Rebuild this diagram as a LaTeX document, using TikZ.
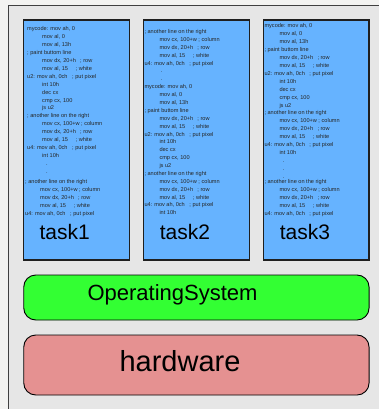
\documentclass[tikz,border=0pt]{standalone}
\usepackage{xcolor}
\usepackage{fontspec}
\setmainfont{Liberation Sans}
\usepackage{tikz}
\usetikzlibrary{positioning, calc}
\tikzset{every node/.append style={inner sep=0pt}}

\definecolor{pagebg}{HTML}{F3F3F1}
\definecolor{panelgray}{HTML}{E6E6E6}
\definecolor{taskblue}{HTML}{66B3FF}
\definecolor{osgreen}{HTML}{33FF33}
\definecolor{hwred}{HTML}{E59191}

% code lines
\newcommand{\codeind}{\hspace*{15pt}}
\newcommand{\cmnt}[3]{\makebox[#1][l]{#2}#3}
\newcommand{\lnrow}{\codeind\cmnt{38pt}{mov dx, 20+h}{; row}}
\newcommand{\lnwhite}{\codeind\cmnt{33.5pt}{mov al, 15}{; white}}
\newcommand{\lncol}{\codeind\cmnt{39pt}{mov cx, 100+w}{; column}}
\newcommand{\lnputa}{\cmnt{45pt}{u2: mov ah, 0ch}{; put pixel}}
\newcommand{\lnputb}{\cmnt{45pt}{u4: mov ah, 0ch}{; put pixel}}

\begin{document}
\begin{tikzpicture}[
    x=1pt, y=-1pt,
    taskbox/.style={rectangle, draw=black!88, fill=taskblue, line width=1.3pt,
        minimum width=105.6pt, minimum height=240pt},
    layerbox/.style={rectangle, rounded corners=12pt, draw=black, line width=0.9pt,
        minimum width=345.3pt},
    code/.style={anchor=base west, font=\fontsize{5.6}{7}\selectfont, text=black!85},
    tasklbl/.style={anchor=base, font=\fontsize{21}{24}\selectfont},
]
\useasboundingbox (0,0) rectangle (379,409);
\clip (0,0) rectangle (379,409);
\fill[pagebg] (0,0) rectangle (379,409);
\filldraw[fill=panelgray, draw=black!75, line width=0.8pt] (8.5,5) rectangle (420,440);

% ===== TASKS =====
\node[taskbox] (task1) at (76.5,140) {};
\node[taskbox] (task2) at (196.4,140) {};
\node[taskbox] (task3) at (316.2,140) {};

\begin{scope}
\clip ($(task1.north west)+(1,1)$) rectangle ($(task1.south east)+(-1,-1)$);
\foreach \txt [count=\i from 0] in {{mycode: mov ah, 0}, {\codeind mov al, 0},
    {\codeind mov al, 13h}, {; paint buttom line}, \lnrow, \lnwhite, \lnputa,
    {\codeind int 10h}, {\codeind dec cx}, {\codeind cmp cx, 100}, {\codeind js u2},
    {; another line on the right}, \lncol, \lnrow, \lnwhite, \lnputb,
    {\codeind int 10h}, {\hspace*{19pt}.}, {\hspace*{19pt}.}}
  \node[code] (c1a-\i) at (27, {30.6+7.94*\i}) {\txt};
\foreach \txt [count=\i from 0] in {{; another line on the right}, \lncol, \lnrow,
    \lnwhite, \lnputb}
  \node[code] (c1b-\i) at (25, {183.6+7.85*\i}) {\txt};
\end{scope}

\begin{scope}
\clip ($(task2.north west)+(1,1)$) rectangle ($(task2.south east)+(-1,-1)$);
\foreach \txt [count=\i from 0] in {{; another line on the right}, \lncol, \lnrow,
    \lnwhite, \lnputb, {\hspace*{16pt}.}, {\hspace*{16pt}.},
    {mycode: mov ah, 0}, {\codeind mov al, 0}, {\codeind mov al, 13h},
    {; paint buttom line}, \lnrow, \lnwhite, \lnputa, {\codeind int 10h},
    {\codeind dec cx}, {\codeind cmp cx, 100}, {\codeind js u2},
    {; another line on the right}, \lncol, \lnrow, \lnwhite, \lnputb,
    {\codeind int 10h}}
  \node[code] (c2-\i) at (144.3, {33.6+7.88*\i}) {\txt};
\end{scope}

\begin{scope}
\clip ($(task3.north west)+(1,1)$) rectangle ($(task3.south east)+(-1,-1)$);
\foreach \txt [count=\i from 0] in {{mycode: mov ah, 0}, {\codeind mov al, 0},
    {\codeind mov al, 13h}, {; paint buttom line}, \lnrow, \lnwhite, \lnputa,
    {\codeind int 10h}, {\codeind dec cx}, {\codeind cmp cx, 100}, {\codeind js u2},
    {; another line on the right}, \lncol, \lnrow, \lnwhite, \lnputb,
    {\codeind int 10h}, {\hspace*{18pt}.}, {\hspace*{18pt}.}, {\hspace*{18pt}.}}
  \node[code] (c3a-\i) at (264.3, {27.6+7.94*\i}) {\txt};
\foreach \txt [count=\i from 0] in {{; another line on the right}, \lncol, \lnrow,
    \lnwhite, \lnputb}
  \node[code] (c3b-\i) at (264.3, {183.6+7.85*\i}) {\txt};
\end{scope}

\node[tasklbl] (lbl1) at (64.7,239) {task1};
\node[tasklbl] (lbl2) at (185,239) {task2};
\node[tasklbl] (lbl3) at (305,239) {task3};

% ===== LAYERS =====
\node[layerbox, fill=osgreen, minimum height=45pt] (os) at (196.4,297.5) {};
\node[anchor=base, font=\fontsize{22}{26}\selectfont] (oslbl) at (172.5,300) {OperatingSystem};
\node[layerbox, fill=hwred, minimum height=60pt] (hw) at (196.4,365) {};
\node[anchor=base, font=\fontsize{29}{34}\selectfont] (hwlbl) at (180,371.7) {hardware};
\end{tikzpicture}
\end{document}
